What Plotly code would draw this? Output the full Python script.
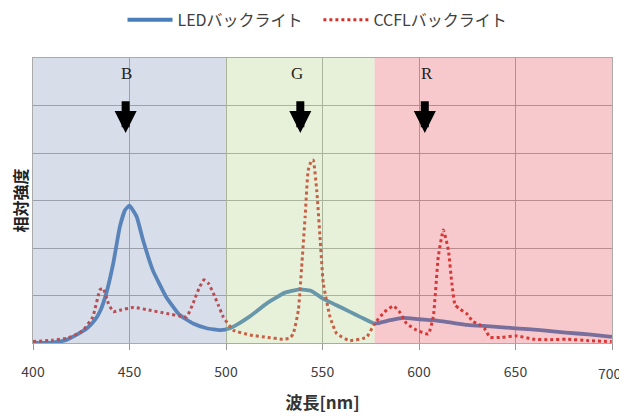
import plotly.graph_objects as go

# ---- data ----
led_x = [400, 410, 417, 422, 428, 432, 435, 438, 441.6, 445, 447.7, 450, 453.7, 457, 462, 469,
         476, 483, 490, 497, 502, 507, 512, 521, 530, 538, 544, 550, 557, 564, 570, 577, 585,
         592, 600, 607, 615, 625, 637, 650, 663, 676, 688, 700]
led_y = [0.0, 0.01, 0.06, 0.16, 0.31, 0.48, 0.69, 1.05, 1.68, 2.45, 2.8, 2.89, 2.66, 2.17, 1.54,
         0.97, 0.59, 0.41, 0.31, 0.27, 0.31, 0.42, 0.55, 0.83, 1.05, 1.13, 1.1, 0.94, 0.8, 0.66,
         0.54, 0.41, 0.48, 0.53, 0.50, 0.48, 0.44, 0.38, 0.35, 0.31, 0.27, 0.22, 0.18, 0.13]

ccfl_x = [400, 410, 417.5, 422, 426, 431, 434.7, 436.4, 439, 441.6, 446, 452, 460.6, 469.3, 476,
          479.6, 483, 486, 488.6, 491, 493.4, 496, 498.6, 503.8, 512.4, 521, 529.7, 533, 534.9,
          537.5, 539.2, 541, 542.6, 544.4, 545.2, 547, 548.7, 550.4, 553.9, 557.3, 564, 572.8,
          577, 582, 586.7, 590, 593.6, 598.8, 604.8, 607.4, 610, 612.6, 615.2, 617, 618.7, 621,
          624.7, 628, 631.6, 634, 636.8, 643, 650.6, 659.2, 668, 676.5, 688, 699.8]
ccfl_y = [0.03, 0.06, 0.1, 0.17, 0.27, 0.55, 1.12, 1.15, 0.84, 0.66, 0.7, 0.75, 0.69, 0.62, 0.57,
          0.55, 0.84, 1.15, 1.33, 1.25, 1.05, 0.8, 0.55, 0.27, 0.17, 0.12, 0.08, 0.1, 0.2,
          0.69, 1.6, 2.66, 3.64, 3.85, 3.85, 3.22, 2.24, 1.26, 0.55, 0.2, 0.05, 0.12,
          0.41, 0.65, 0.78, 0.65, 0.41, 0.27, 0.19, 0.55, 1.82, 2.38, 1.96, 1.26, 0.8, 0.72,
          0.62, 0.45, 0.38, 0.3, 0.12, 0.12, 0.15, 0.08, 0.07, 0.08, 0.05, 0.03]

series_names = ["LEDバックライト", "CCFLバックライト"]
x_ticks = [400, 450, 500, 550, 600, 650, 700]
x_tick_text = ["400", "450", "500", "550", "600", "650", ""]  # last label drawn inset, as in the original
last_tick_label = "700"

# color bands (start, end, overlay colour)
bands = [(400, 500, "rgba(125,145,182,0.30)"),
         (500, 577, "rgba(175,208,132,0.30)"),
         (577, 700, "rgba(228,75,85,0.30)")]

# band labels and arrow positions
band_labels = ["B", "G", "R"]
label_x = [448.7, 537, 604]
arrow_x = [448, 538.5, 603]
label_y = 5.68
arrow_tip_y = 4.42
arrow_tail_y = 5.12

fig = go.Figure()
fig.add_trace(go.Scatter(x=led_x, y=led_y, mode="lines", name=series_names[0] + "\u00a0" * 3,
                         line=dict(color="#4a7ebb", width=3.8, shape="spline", smoothing=0.4)))
fig.add_trace(go.Scatter(x=ccfl_x, y=ccfl_y, mode="lines", name=series_names[1],
                         line=dict(color="#d2302a", width=3, dash="dot", shape="spline", smoothing=0.4)))

for x0, x1, c in bands:
    fig.add_shape(type="rect", xref="x", yref="y", x0=x0, x1=x1, y0=0, y1=6,
                  fillcolor=c, line_width=0, layer="above")

for lab, lx in zip(band_labels, label_x):
    fig.add_annotation(x=lx, y=label_y, text=lab, showarrow=False,
                       font=dict(family="Liberation Serif, DejaVu Serif, serif", size=17, color="#222"))
for ax_ in arrow_x:
    fig.add_annotation(x=ax_, y=arrow_tip_y, ax=ax_, ay=arrow_tail_y, axref="x", ayref="y",
                       text="", showarrow=True, arrowhead=2, arrowsize=0.55, arrowwidth=8,
                       arrowcolor="#000")

fig.add_annotation(x=x_ticks[-1], xref="x", y=0, yref="paper", text=last_tick_label,
                   showarrow=False, xanchor="right", xshift=12, yanchor="middle", yshift=-30,
                   font=dict(size=14, color="#404040"))

grid = "#a8a8a8"
# page body adds an 8px offset, so the figure is 8px smaller than the window
fig.update_layout(
    width=619, height=409,
    margin=dict(l=25, r=15, t=50, b=74),
    paper_bgcolor="white", plot_bgcolor="white",
    font=dict(family="Noto Sans CJK JP, Noto Sans, sans-serif", color="#404040"),
    showlegend=True,
    legend=dict(orientation="h", x=0.5, xanchor="center", xref="container",
                y=0.971, yanchor="middle", yref="container",
                font=dict(size=16, color="#404040"), itemwidth=45),
    xaxis=dict(range=[400, 700], tickvals=x_ticks, ticktext=x_tick_text, showgrid=True,
               gridcolor=grid, gridwidth=1,
               ticks="outside", ticklen=6, tickcolor="#999", tickfont=dict(size=14, color="#404040"),
               ticklabelstandoff=10, automargin=False,
               showline=True, linecolor="#aaa", mirror=True, zeroline=False,
               title=dict(text="<b>波長[nm]</b>", font=dict(size=17, color="#333"), standoff=17)),
    yaxis=dict(range=[0, 6], dtick=1, showgrid=True, gridcolor=grid, gridwidth=1,
               showticklabels=False, ticks="", showline=True, linecolor="#aaa", mirror=True,
               zeroline=False, automargin=False,
               title=dict(text="<b>相対強度</b>", font=dict(size=16, color="#222"), standoff=3)),
)

fig.write_html("out.html")
